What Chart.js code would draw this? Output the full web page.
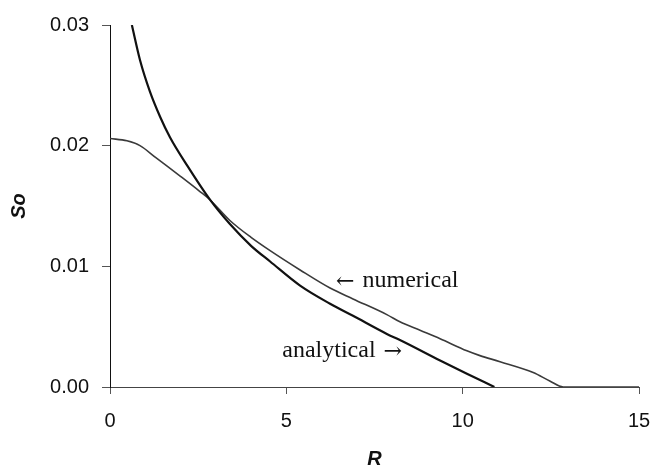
<!DOCTYPE html>
<html lang="en">
<head>
    <meta charset="UTF-8">
    <title>So vs R</title>
    <script src="https://cdn.jsdelivr.net/npm/chart.js@4.4.1/dist/chart.umd.min.js"></script>
    <style>
        body {
            margin: 0;
            background: #fff;
        }
        #wrap {
            width: 654px;
            height: 469px;
        }
    </style>
</head>
<body>
<div id="wrap"><canvas id="myChart" width="654" height="469"></canvas></div>
<script>
    // values
    const rAnalytical = [0.62, 0.85, 1.13, 1.42, 1.70, 2.20, 2.84, 3.40, 4.00, 4.54, 5.39, 6.24, 6.89, 7.85, 8.22, 9.36, 10.12, 10.90];
    const soAnalytical = [0.0300, 0.0271, 0.0245, 0.0224, 0.0207, 0.0183, 0.0155, 0.0135, 0.0117, 0.0104, 0.0084, 0.0069, 0.0059, 0.0044, 0.0039, 0.0022, 0.0011, 0.0];

    const rNumerical = [0, 0.48, 0.85, 1.30, 1.62, 1.98, 2.55, 2.84, 3.40, 4.00, 4.54, 5.39, 6.24, 6.89, 7.85, 8.22, 8.79, 9.36, 10.12, 10.49, 11.06, 12.0, 12.47, 12.85, 15];
    const soNumerical = [0.0206, 0.0204, 0.0200, 0.0190, 0.0183, 0.0175, 0.0162, 0.0155, 0.0138, 0.0124, 0.0113, 0.0097, 0.0082, 0.0073, 0.0060, 0.0054, 0.0047, 0.0040, 0.0030, 0.0026, 0.0021, 0.0012, 0.0005, 0.0, 0.0];

    const xTicks = [0, 5, 10, 15];
    const yTicks = [0, 0.01, 0.02, 0.03];

    // label text + where it points (data coords)
    const notes = [
        { word: 'numerical', arrow: '\u2190', r: 6.41, so: 0.0088, side: 'left' },
        { word: 'analytical', arrow: '\u2192', r: 8.28, so: 0.0030, side: 'right' }
    ];

    function toPoints(xs, ys) {
        return xs.map((x, i) => ({ x: x, y: ys[i] }));
    }

    const notePlugin = {
        id: 'notes',
        afterDatasetsDraw(chart) {
            const ctx = chart.ctx;
            const xs = chart.scales.x, ys = chart.scales.y;
            const wordFont = '24px "Liberation Serif", "Times New Roman", serif';
            const arrowFont = '22px "DejaVu Serif", "Liberation Serif", serif';
            ctx.save();
            ctx.fillStyle = '#111';
            ctx.textBaseline = 'middle';
            notes.forEach(n => {
                const px = xs.getPixelForValue(n.r);
                const py = ys.getPixelForValue(n.so);
                ctx.font = arrowFont;
                const aw = ctx.measureText(n.arrow).width;
                if (n.side === 'left') {
                    ctx.textAlign = 'left';
                    ctx.fillText(n.arrow, px, py + 1);
                    ctx.font = wordFont;
                    ctx.fillText(n.word, px + aw + 8, py);
                } else {
                    ctx.textAlign = 'right';
                    ctx.fillText(n.arrow, px, py + 1);
                    ctx.font = wordFont;
                    ctx.fillText(n.word, px - aw - 8, py);
                }
            });
            ctx.restore();
        }
    };

    const tickFont = { family: 'Arial, "Liberation Sans", sans-serif', size: 20 };
    const titleFont = { family: 'Arial, "Liberation Sans", sans-serif', size: 20, weight: 'bold', style: 'italic', lineHeight: 1 };

    new Chart(document.getElementById('myChart'), {
        type: 'line',
        data: {
            datasets: [
                {
                    label: 'analytical',
                    data: toPoints(rAnalytical, soAnalytical),
                    borderColor: '#111',
                    borderWidth: 2.2,
                    pointRadius: 0,
                    cubicInterpolationMode: 'monotone'
                },
                {
                    label: 'numerical',
                    data: toPoints(rNumerical, soNumerical),
                    borderColor: '#3a3a3a',
                    borderWidth: 1.6,
                    pointRadius: 0,
                    cubicInterpolationMode: 'monotone'
                }
            ]
        },
        options: {
            responsive: false,
            animation: false,
            layout: { padding: { top: 25, right: 15, left: 0, bottom: 0 } },
            plugins: {
                legend: { display: false },
                tooltip: { enabled: false }
            },
            scales: {
                x: {
                    type: 'linear',
                    min: 0,
                    max: 15,
                    afterBuildTicks: axis => { axis.ticks = xTicks.map(v => ({ value: v })); },
                    afterFit: axis => {
                        axis.height = 82;
                        axis.paddingLeft = 0;
                        axis.paddingRight = 0;
                    },
                    grid: { drawOnChartArea: false, tickLength: 7, color: '#555' },
                    border: { color: '#444', width: 1 },
                    ticks: { font: tickFont, color: '#111', padding: 15, maxRotation: 0 },
                    title: { display: true, text: 'R', font: titleFont, color: '#111', padding: { top: 0, bottom: 0 } }
                },
                y: {
                    min: 0,
                    max: 0.03,
                    afterBuildTicks: axis => { axis.ticks = yTicks.map(v => ({ value: v })); },
                    afterFit: axis => {
                        axis.width = 110;
                        axis.paddingTop = 0;
                        axis.paddingBottom = 0;
                    },
                    grid: { drawOnChartArea: false, tickLength: 8, color: '#555' },
                    border: { color: '#111', width: 1 },
                    ticks: {
                        font: tickFont,
                        color: '#111',
                        padding: 13,
                        callback: v => v.toFixed(2)
                    },
                    title: { display: true, text: 'So', font: titleFont, color: '#111', padding: { top: 9, bottom: 0 } }
                }
            }
        },
        plugins: [notePlugin]
    });
</script>
</body>
</html>
